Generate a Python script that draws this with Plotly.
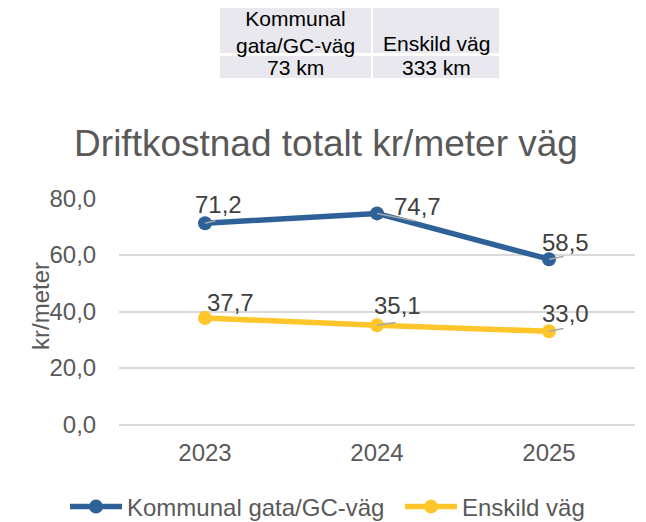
import plotly.graph_objects as go

years = ["2023", "2024", "2025"]
kommunal = [71.2, 74.7, 58.5]
enskild = [37.7, 35.1, 33.0]
series_names = ["Kommunal gata/GC-väg", "Enskild väg"]

table_header = ["Kommunal<br>gata/GC-väg", "Enskild väg"]
table_values = ["73 km", "333 km"]

FONT = "Liberation Sans, Arial, sans-serif"
BLUE = "#2F6199"
YELLOW = "#FFC62C"
GREY = "#595959"
CELL = "#E8E8EE"

W, H = 646, 522
# the html body adds an 8px margin, so layout pixels are page pixels - 8
OFF = 8
L, R, B = 119 - OFF, W - (635 - OFF), H - (425 - OFF)
PLOT_W = W - L - R
PAPER_H = H - B


def px(x):
    return (x - OFF - L) / PLOT_W


def py(y):
    return (PAPER_H - (y - OFF)) / PAPER_H


xpos = list(range(len(years)))

fig = go.Figure()

for name, vals, col, leg in [(series_names[0], kommunal, BLUE, "legend"),
                             (series_names[1], enskild, YELLOW, "legend2")]:
    fig.add_trace(go.Scatter(
        x=xpos, y=vals, name=name, mode="lines+markers", legend=leg,
        line=dict(color=col, width=5.5),
        marker=dict(color=col, size=14),
    ))

# data labels (shift in px) and leader line ends (px offset from marker)
label_shift = {"k": [(13, 19), (40, 7), (16, 17)], "e": [(25, 16), (20, 20), (16, 18)]}
leader_end = {"k": [(12, -3), (40, 8), (16, -3)], "e": [None, (20, -3), (16, -3)]}
for key, vals in [("k", kommunal), ("e", enskild)]:
    for i, v in enumerate(vals):
        end = leader_end[key][i]
        if end:
            fig.add_annotation(
                x=xpos[i], y=v, text=" ", showarrow=True, arrowhead=0,
                arrowwidth=1.5, arrowcolor="#A6A6A6", ax=end[0], ay=end[1],
                standoff=0, font=dict(size=1),
            )
        dx, dy = label_shift[key][i]
        fig.add_annotation(
            x=xpos[i], y=v, text=f"{v:.1f}".replace(".", ","), showarrow=False,
            xshift=dx, yshift=dy,
            font=dict(family=FONT, size=24, color="#404040"),
        )

# small table above the chart (page pixels)
col_x = [(220, 371), (373, 499)]
head_y, row_y = (5, 53), (56, 78)
head_text_y = [32, 43]
for c in range(2):
    x0, x1 = col_x[c]
    for y0, y1 in (head_y, row_y):
        fig.add_shape(type="rect", xref="paper", yref="paper",
                      x0=px(x0), x1=px(x1), y0=py(y1), y1=py(y0),
                      fillcolor=CELL, line=dict(width=0), layer="below")
    fig.add_annotation(xref="paper", yref="paper", x=px((x0 + x1) / 2), y=py(head_text_y[c]),
                       text=table_header[c], showarrow=False, xanchor="center", yanchor="middle",
                       font=dict(family=FONT, size=21, color="#000000"))
    fig.add_annotation(xref="paper", yref="paper", x=px((x0 + x1) / 2), y=py(67),
                       text=table_values[c], showarrow=False, xanchor="center", yanchor="middle",
                       font=dict(family=FONT, size=21, color="#000000"))

# y axis title
fig.add_annotation(xref="paper", yref="paper", x=px(40), y=py(306), text="kr/meter",
                   textangle=-90, showarrow=False, xanchor="center", yanchor="middle",
                   font=dict(family=FONT, size=24, color=GREY))

legend_style = dict(orientation="h", xref="container", yref="container", xanchor="left",
                    y=1 - (507 - OFF) / H, yanchor="middle",
                    font=dict(size=24, color=GREY), itemwidth=52)

fig.update_layout(
    width=W, height=H,
    margin=dict(l=L, r=R, t=0, b=B),
    paper_bgcolor="white", plot_bgcolor="white",
    separators=",.",
    font=dict(family=FONT, color=GREY),
    title=dict(text="Driftkostnad totalt kr/meter väg", x=(326 - OFF) / W, xanchor="center",
               y=1 - (143 - OFF) / H, yref="container", yanchor="middle",
               font=dict(family=FONT, size=37, color=GREY)),
    xaxis=dict(range=[-0.5, 2.5], tickvals=xpos, ticktext=years,
               showgrid=False, showline=False, zeroline=False, automargin=False,
               tickfont=dict(size=24, color=GREY), ticks="outside", ticklen=6,
               tickcolor="rgba(0,0,0,0)"),
    yaxis=dict(domain=[0, py(198)], range=[-0.15, 80.15], tickvals=[0, 20, 40, 60, 80],
               tickformat=".1f", automargin=False,
               showgrid=True, gridcolor="#D9D9D9", gridwidth=1.5,
               zeroline=True, zerolinecolor="#D9D9D9", zerolinewidth=1.5,
               showline=False, tickfont=dict(size=24, color=GREY),
               ticks="outside", ticklen=17, tickcolor="rgba(0,0,0,0)"),
    legend=dict(x=(65 - OFF) / W, **legend_style),
    legend2=dict(x=(400 - OFF) / W, **legend_style),
    showlegend=True,
)

fig.write_html("out.html")
